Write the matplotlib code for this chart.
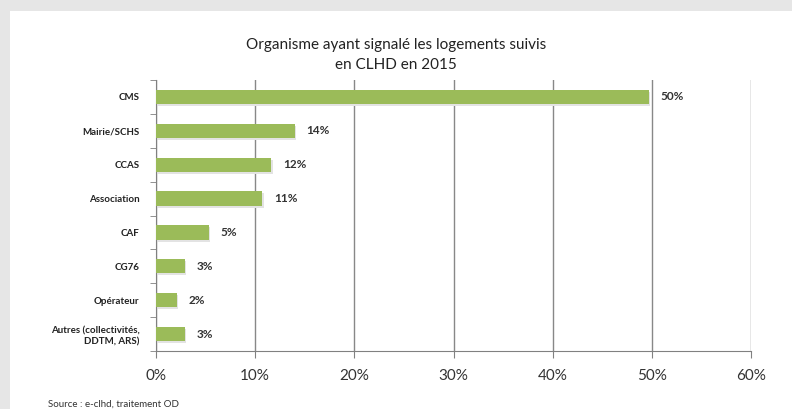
import matplotlib
matplotlib.use("Agg")
import matplotlib.pyplot as plt
from matplotlib.patches import Rectangle
from matplotlib.ticker import FixedLocator

categories = ["CMS", "Mairie/SCHS", "CCAS", "Association", "CAF", "CG76",
              "Opérateur", "Autres (collectivités,\nDDTM, ARS)"]
values = [49.7, 14.0, 11.6, 10.7, 5.3, 2.9, 2.1, 2.9]
value_labels = ["50%", "14%", "12%", "11%", "5%", "3%", "2%", "3%"]
xticks = [0, 10, 20, 30, 40, 50, 60]
xtick_labels = ["0%", "10%", "20%", "30%", "40%", "50%", "60%"]

plt.rcParams['font.family'] = ['Lato', 'DejaVu Sans']

fig = plt.figure(figsize=(7.92, 4.09), dpi=100)
fig.patch.set_facecolor("#e6e6e6")
fig.add_artist(Rectangle((10/792, 0), 1, 1 - 11/409, transform=fig.transFigure,
                         facecolor="white", edgecolor="none", zorder=0))

ax = fig.add_axes([156/792, 1 - 351/409, (751 - 156)/792, (351 - 80)/409])
ax.set_facecolor("none")

n = len(categories)
ypos = list(range(n))
green = "#9bbb59"
# soft shadow below the bars
ax.barh([y + 0.06 for y in ypos], values, height=0.42, left=0.15,
        color="#e3e3e3", zorder=2)
ax.barh(ypos, values, height=0.42, color=green, zorder=3)
for y, v, lab in zip(ypos, values, value_labels):
    ax.text(v + 1.2, y, lab, va="center", ha="left", fontsize=8.5,
            fontweight="bold", color="#333333", zorder=4)

ax.set_ylim(n - 0.5, -0.5)
ax.set_xlim(0, 60)
ax.set_yticks(ypos)
ax.set_yticklabels(categories, fontsize=7, color="#222222", fontweight="bold",
                   linespacing=1.3)
ax.yaxis.set_minor_locator(FixedLocator([i - 0.5 for i in range(n + 1)]))
ax.tick_params(axis="y", which="major", length=0, pad=12)
ax.tick_params(axis="y", which="minor", length=4, color="#808080", direction="out")

ax.set_xticks(xticks)
ax.set_xticklabels(xtick_labels, fontsize=11, color="#333333")
ax.tick_params(axis="x", length=5, color="#808080", pad=8)

ax.grid(axis="x", color="#888888", linewidth=1, zorder=1)
ax.set_axisbelow(True)
for s in ["top", "right"]:
    ax.spines[s].set_visible(False)
ax.spines["left"].set_color("#808080")
ax.spines["bottom"].set_color("#808080")

fig.text(396/792, 1 - 45/409, "Organisme ayant signalé les logements suivis",
         ha="center", va="center", fontsize=11, color="#222222")
fig.text(396/792, 1 - 65/409, "en CLHD en 2015",
         ha="center", va="center", fontsize=11, color="#222222")
fig.text(48/792, 1 - 404/409, "Source : e-clhd, traitement OD",
         ha="left", va="center", fontsize=7, color="#333333")

fig.savefig("out.png", dpi=100, facecolor=fig.get_facecolor())
